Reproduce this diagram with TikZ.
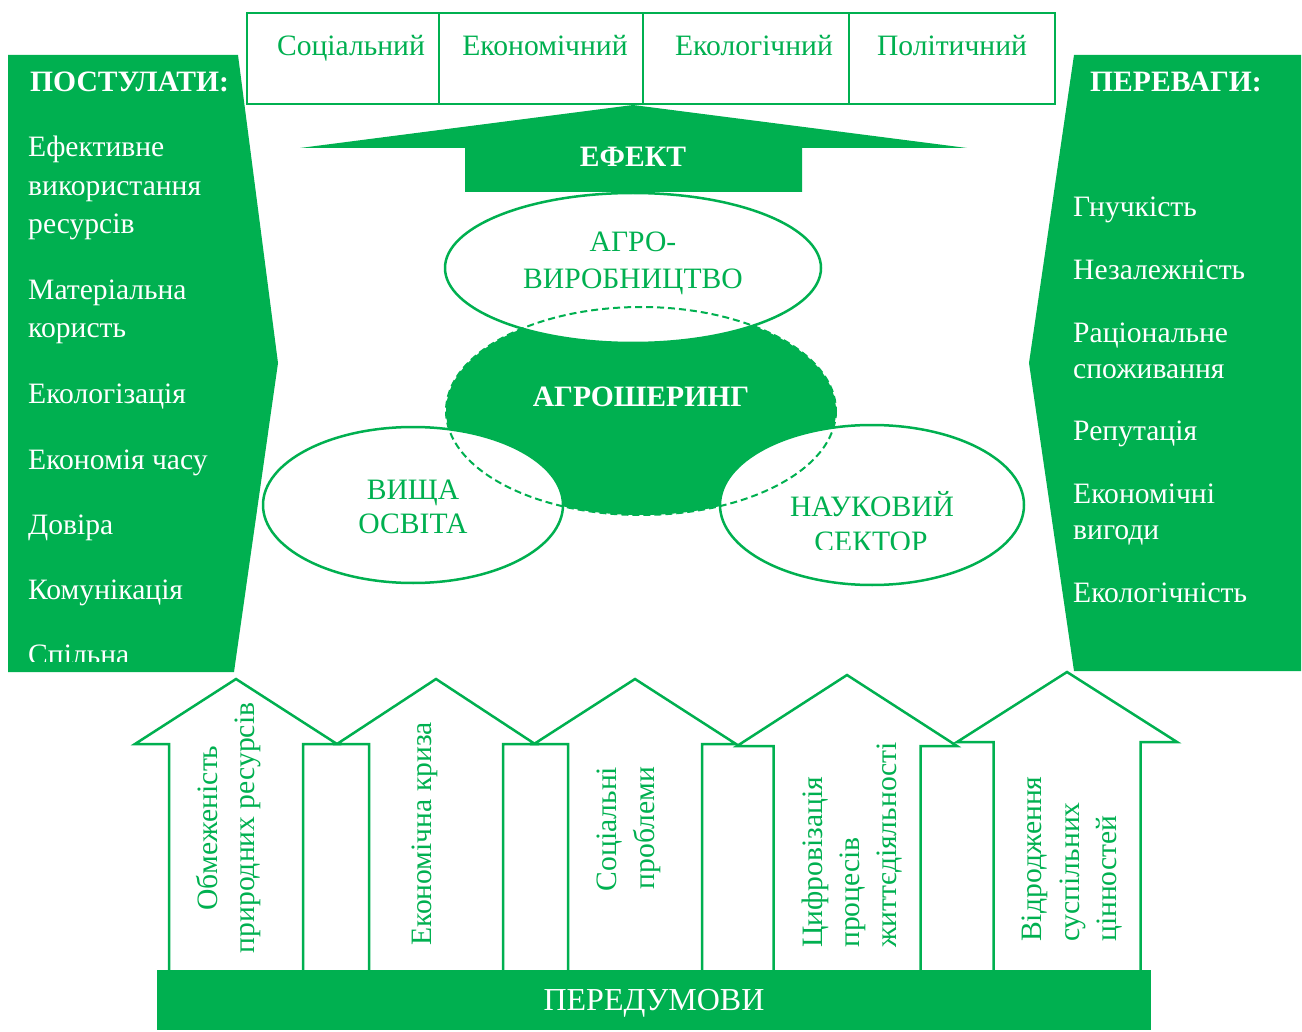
\documentclass[tikz,border=0pt]{standalone}
\usepackage{fontspec}
\setmainfont{Liberation Serif}
\definecolor{gr}{RGB}{0,176,80}
\begin{document}
\begin{tikzpicture}[x=1pt,y=-1pt,
  ln/.style={draw=gr, line width=2.5pt, line join=miter},
  txt/.style={inner sep=0pt, text height=19.5pt, text depth=0pt, font=\fontsize{29.6}{35}\selectfont},
  gtxt/.style={txt, text=gr},
  wtxt/.style={txt, text=white},
  btxt/.style={txt, text=white, font=\fontsize{29.6}{35}\selectfont\bfseries},
]
\useasboundingbox (0,0) rectangle (1302,1032);
\fill[white] (0,0) rectangle (1302,1032);

% top boxes
\foreach \a/\b in {247/439,439/643,643/849,849/1055}
  \draw[ln] (\a,13) rectangle (\b,104);
\node[gtxt] (t1) at (351,46) {Соціальний};
\node[gtxt] (t2) at (545,46) {Економічний};
\node[gtxt] (t3) at (754,46) {Екологічний};
\node[gtxt] (t4) at (952,46) {Політичний};

% side panels
\fill[gr] (8,55) -- (238,55) -- (278,363) -- (234,672) -- (8,672) -- cycle;
\fill[gr] (1074,55) -- (1301,55) -- (1301,671) -- (1074,671) -- (1029,363) -- cycle;

\node[btxt, anchor=west] (lh) at (30,82) {ПОСТУЛАТИ:};
\node[wtxt, anchor=west] (l1) at (28,147) {Ефективне};
\node[wtxt, anchor=west] (l2) at (28,186) {використання};
\node[wtxt, anchor=west] (l3) at (28,224) {ресурсів};
\node[wtxt, anchor=west] (l4) at (28,290) {Матеріальна};
\node[wtxt, anchor=west] (l5) at (28,328) {користь};
\node[wtxt, anchor=west] (l6) at (28,394) {Екологізація};
\node[wtxt, anchor=west] (l7) at (28,460) {Економія часу};
\node[wtxt, anchor=west] (l8) at (28,525) {Довіра};
\node[wtxt, anchor=west] (l9) at (28,590) {Комунікація};
\begin{scope}
  \clip (0,600) rectangle (300,661);
  \node[wtxt, anchor=west] (l10) at (28,655) {Спільна};
\end{scope}

\node[btxt, anchor=west] (rh) at (1090,82) {ПЕРЕВАГИ:};
\node[wtxt, anchor=west] (r1) at (1073,207) {Гнучкість};
\node[wtxt, anchor=west] (r2) at (1073,270) {Незалежність};
\node[wtxt, anchor=west] (r3) at (1073,333) {Раціональне};
\node[wtxt, anchor=west] (r4) at (1073,369) {споживання};
\node[wtxt, anchor=west] (r5) at (1073,431) {Репутація};
\node[wtxt, anchor=west] (r6) at (1073,494) {Економічні};
\node[wtxt, anchor=west] (r7) at (1073,530) {вигоди};
\node[wtxt, anchor=west] (r8) at (1073,593) {Екологічність};

% effect arrow
\fill[gr] (300,148) -- (633,105) -- (967,148) -- (802,148) -- (802,192)
  -- (465,192) -- (465,148) -- cycle;
\node[btxt] (ef) at (633,157) {ЕФЕКТ};

% ellipses
\fill[gr] (641,411) ellipse [x radius=195, y radius=104];
\draw[ln, fill=white] (633,268) ellipse [x radius=188, y radius=75];
\draw[ln, fill=white] (413,505) ellipse [x radius=150, y radius=78];
\draw[ln, fill=white] (872,505) ellipse [x radius=152, y radius=80];
\draw[gr, line width=2pt, dash pattern=on 7pt off 4pt] (641,411) ellipse [x radius=195, y radius=104];

\node[gtxt] (e1a) at (633,242) {АГРО-};
\node[gtxt] (e1b) at (633,279) {ВИРОБНИЦТВО};
\node[btxt] (e0) at (641,397) {АГРОШЕРИНГ};
\node[gtxt] (e2a) at (413,490) {ВИЩА};
\node[gtxt] (e2b) at (413,524) {ОСВІТА};
\node[gtxt] (e3a) at (872,507) {НАУКОВИЙ};
\begin{scope}
  \clip (700,525) rectangle (1050,549);
  \node[gtxt] (e3b) at (871,542) {СЕКТОР};
\end{scope}

% bottom arrows
\foreach \c/\h/\s/\ap/\tp in {236/101/67/679/744, 436/99/67/679/744, 635/101/67/679/744,
    847/110/73.5/675/746, 1067/110/73.5/672/742}{
  \draw[ln, fill=white] ({\c-\s},970) -- ({\c-\s},\tp) -- ({\c-\h},\tp) -- (\c,\ap)
    -- ({\c+\h},\tp) -- ({\c+\s},\tp) -- ({\c+\s},970);
}
\fill[gr] (157,970) rectangle (1151,1030);
\node[wtxt, text height=21pt, font=\fontsize{32}{38}\selectfont] (pd) at (654,1000) {ПЕРЕДУМОВИ};

\node[gtxt, rotate=90] (a1a) at (208,828) {Обмеженість};
\node[gtxt, rotate=90] (a1b) at (245,828) {природних ресурсів};
\node[gtxt, rotate=90] (a2) at (422,834) {Економічна криза};
\node[gtxt, rotate=90] (a3a) at (607,829) {Соціальні};
\node[gtxt, rotate=90] (a3b) at (645,828) {проблеми};
\node[gtxt, rotate=90, anchor=west] (a4a) at (813,948) {Цифровізація};
\node[gtxt, rotate=90, anchor=west] (a4b) at (850,948) {процесів};
\node[gtxt, rotate=90, anchor=west] (a4c) at (887,948) {життєдіяльності};
\node[gtxt, rotate=90, anchor=west] (a5a) at (1032,942) {Відродження};
\node[gtxt, rotate=90, anchor=west] (a5b) at (1070,942) {суспільних};
\node[gtxt, rotate=90, anchor=west] (a5c) at (1107,942) {цінностей};
\end{tikzpicture}
\end{document}
